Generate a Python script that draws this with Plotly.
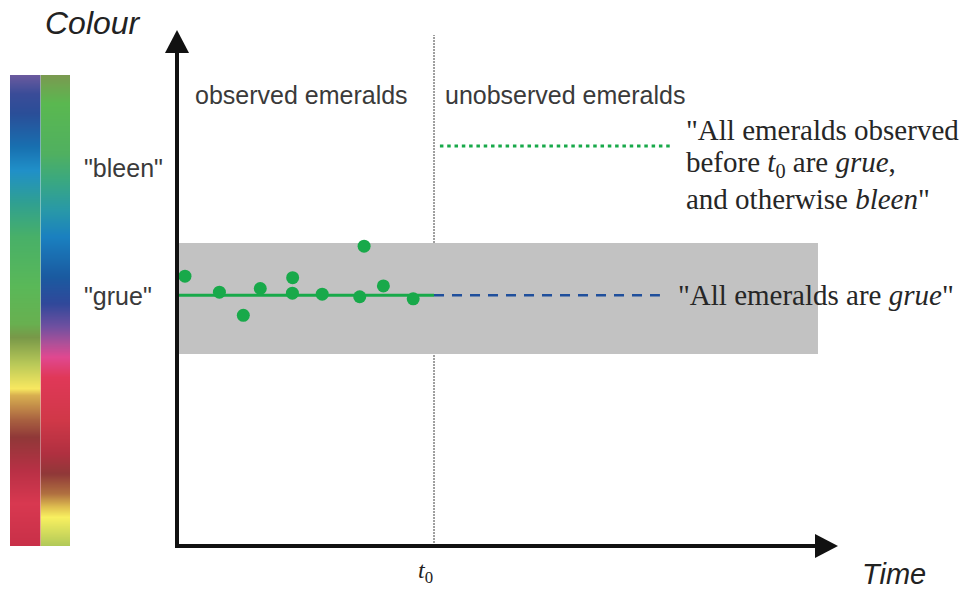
import plotly.graph_objects as go

W, H = 962, 590

# ---------------- data ----------------
obs_time = [0.31, 1.65, 2.58, 3.24, 4.50, 4.49, 5.65, 7.28, 7.11, 8.03, 9.19]
obs_colour = [5.23, 4.92, 4.47, 4.99, 5.20, 4.90, 4.88, 5.81, 4.83, 5.04, 4.79]
t0 = 10.0
grue_level = 4.86
bleen_level = 7.75
band_low, band_high, band_end = 3.72, 5.87, 24.94
grue_proj_end = 18.79
bleen_start, bleen_end = 10.23, 19.18
time_max, colour_max = 25.68, 10.0

# colour strip stops (fraction from top, colour)
left_pos = [0.0, 0.039, 0.081, 0.152, 0.202, 0.272, 0.343, 0.449, 0.527, 0.556,
            0.612, 0.665, 0.679, 0.732, 0.768, 0.839, 0.909, 1.0]
left_col = ["#6a5a9e", "#3a4c98", "#2a4e98", "#1870b0", "#2090c8", "#30a090", "#48b068",
            "#5ab858", "#68b050", "#789848", "#b8c858", "#f8e860", "#d8b050", "#a86040",
            "#903838", "#b83045", "#d83850", "#c83048"]
right_pos = [0.0, 0.060, 0.166, 0.223, 0.287, 0.343, 0.428, 0.485, 0.534, 0.570,
             0.598, 0.641, 0.732, 0.803, 0.846, 0.888, 0.917, 0.938, 1.0]
right_col = ["#7a9a50", "#5ab850", "#50b060", "#3aa880", "#2898a8", "#1a80c0", "#1a5aa0",
             "#30489a", "#7050a0", "#b05098", "#e04890", "#e03858", "#d03848", "#b03040",
             "#903838", "#b07040", "#e0c050", "#f8f060", "#b0c858"]

GREEN = "#18a94a"
BLUE = "#1f4f9c"


def PX(x):
    return x / W


def PY(y):
    return 1 - y / H


fig = go.Figure()

# colour strips
for cs_pos, cs_col, xa in [(left_pos, left_col, "x2"), (right_pos, right_col, "x3")]:
    fig.add_trace(go.Heatmap(
        x=[0, 1], y=[0, 1], z=[[0, 0], [1, 1]],
        colorscale=[[p, c] for p, c in zip(cs_pos, cs_col)],
        zmin=0, zmax=1, zsmooth="best", showscale=False, hoverinfo="skip",
        xaxis=xa, yaxis="y2"))

# observed line and points
fig.add_trace(go.Scatter(x=[0, t0], y=[grue_level, grue_level], mode="lines",
                         line=dict(color=GREEN, width=3), hoverinfo="skip"))
fig.add_trace(go.Scatter(x=obs_time, y=obs_colour, mode="markers",
                         marker=dict(color=GREEN, size=13), hoverinfo="skip"))
# projections
fig.add_trace(go.Scatter(x=[t0, grue_proj_end], y=[grue_level, grue_level], mode="lines",
                         line=dict(color=BLUE, width=2.5, dash="10px,8px"), hoverinfo="skip"))
fig.add_trace(go.Scatter(x=[bleen_start, bleen_end], y=[bleen_level, bleen_level], mode="lines",
                         line=dict(color=GREEN, width=3, dash="3.5px,3.8px"), hoverinfo="skip"))

shapes = [
    dict(type="rect", xref="x", yref="y", x0=0, x1=band_end, y0=band_low, y1=band_high,
         fillcolor="#c2c2c2", line=dict(width=0), layer="below"),
    dict(type="line", xref="x", yref="paper", x0=t0, x1=t0, y0=PY(546), y1=PY(35),
         line=dict(color="#808080", width=1.5, dash="2px,1px"), layer="below"),
    # axes
    dict(type="line", xref="paper", yref="paper", x0=PX(177), x1=PX(177), y0=PY(548), y1=PY(48),
         line=dict(color="#111111", width=4)),
    dict(type="line", xref="paper", yref="paper", x0=PX(175), x1=PX(820), y0=PY(546), y1=PY(546),
         line=dict(color="#111111", width=4)),
    dict(type="path", xref="paper", yref="paper",
         path=f"M {PX(177)},{PY(30)} L {PX(165)},{PY(53)} L {PX(189)},{PY(53)} Z",
         fillcolor="#111111", line=dict(width=0)),
    dict(type="path", xref="paper", yref="paper",
         path=f"M {PX(838)},{PY(546)} L {PX(815)},{PY(534)} L {PX(815)},{PY(558)} Z",
         fillcolor="#111111", line=dict(width=0)),
]

SANS = "Liberation Sans, Arial, sans-serif"
SERIF = "Liberation Serif, Times New Roman, serif"


def ann(text, x, y, size, family, color, xanchor="left"):
    return dict(text=text, x=PX(x), y=PY(y), xref="paper", yref="paper", showarrow=False,
                xanchor=xanchor, yanchor="middle", font=dict(size=size, family=family, color=color))


annotations = [
    ann("<i>Colour</i>", 93, 23, 32, SANS, "#222222", "center"),
    ann("<i>Time</i>", 894, 574, 29, SANS, "#222222", "center"),
    ann("<i>t</i><sub>0</sub>", 425, 572, 24, SERIF, "#222222", "center"),
    ann("observed emeralds", 193, 95, 25, SANS, "#3a3a3a"),
    ann("unobserved emeralds", 443, 95, 25, SANS, "#3a3a3a"),
    ann('"bleen"', 82, 168, 25, SANS, "#3a3a3a"),
    ann('"grue"', 82, 296, 25, SANS, "#3a3a3a"),
    ann('"All emeralds are <i>grue</i>"', 676, 295, 29, SERIF, "#262626"),
    ann('"All emeralds observed', 684, 130, 29, SERIF, "#262626"),
    ann('before <i>t</i><sub>0</sub> are <i>grue</i>,', 684, 164, 29, SERIF, "#262626"),
    ann('and otherwise <i>bleen</i>"', 684, 199, 29, SERIF, "#262626"),
]

fig.update_layout(
    width=W, height=H, margin=dict(l=0, r=0, t=0, b=0),
    paper_bgcolor="white", plot_bgcolor="white", showlegend=False,
    xaxis=dict(domain=[PX(177), PX(837)], range=[0, time_max], visible=False),
    yaxis=dict(domain=[PY(546), PY(30)], range=[0, colour_max], visible=False),
    xaxis2=dict(domain=[PX(10), PX(40.5)], range=[0, 1], visible=False, anchor="y2"),
    xaxis3=dict(domain=[PX(40.5), PX(70)], range=[0, 1], visible=False, anchor="y2"),
    yaxis2=dict(domain=[PY(546), PY(75)], range=[1, 0], visible=False, anchor="x2"),
    shapes=shapes, annotations=annotations,
)

fig.write_html("out.html", config={"displayModeBar": False},
               post_script="document.body.style.margin='0';document.body.style.overflow='hidden';")
